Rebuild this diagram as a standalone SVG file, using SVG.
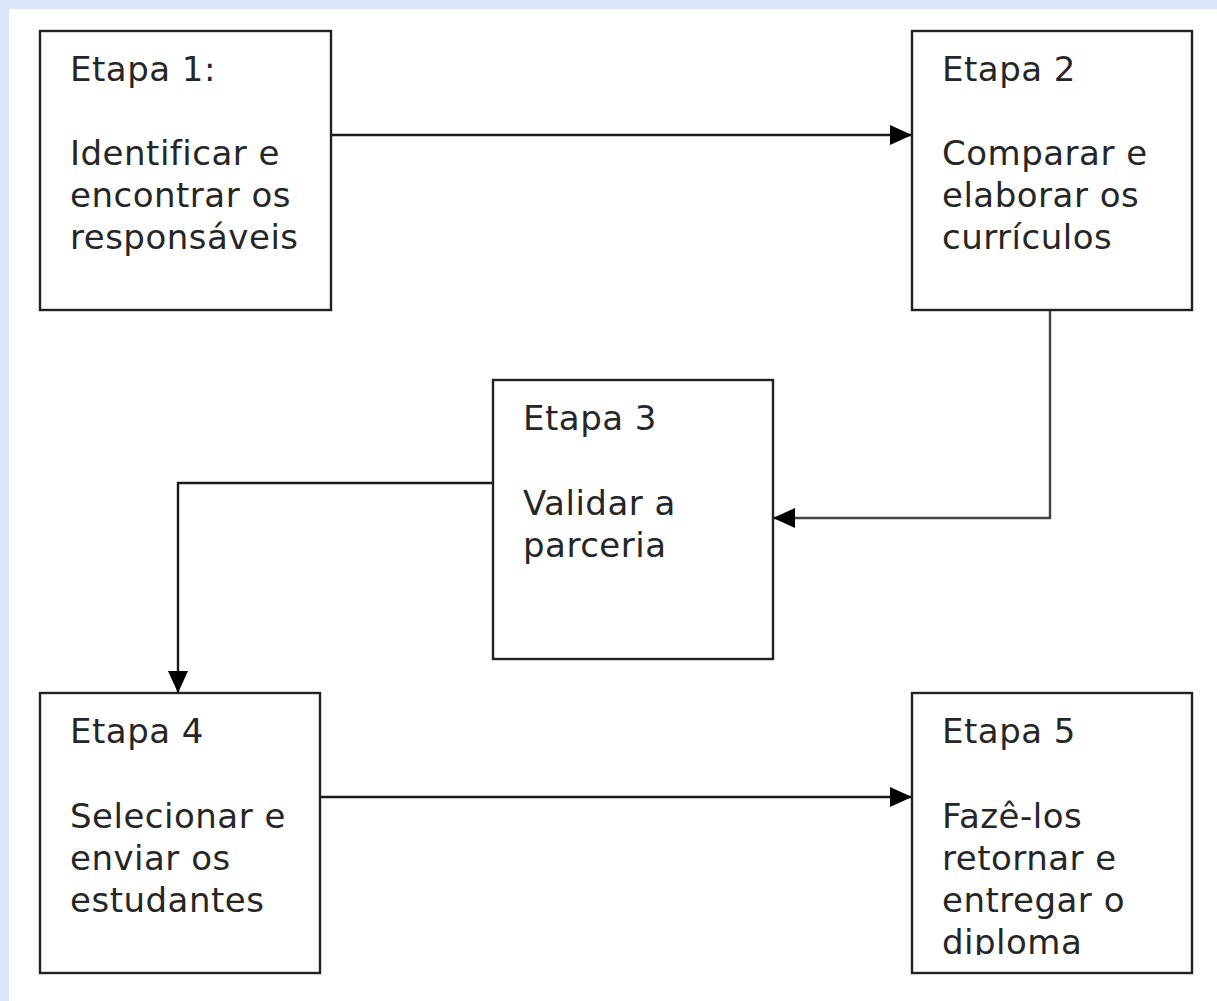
<svg xmlns="http://www.w3.org/2000/svg" width="1217" height="1001" viewBox="0 0 1217 1001">
<style>
.box{fill:#fff;stroke:#222;stroke-width:2.4}
.t{font-family:"DejaVu Sans",Verdana,sans-serif;font-size:34px;fill:#262626;letter-spacing:0.5px}
.c{fill:none;stroke:#1a1a1a;stroke-width:2.4}
.g{fill:none;stroke:#444;stroke-width:2.4}
</style>
<defs>
<marker id="ah" viewBox="0 0 22 20" refX="22" refY="10" markerWidth="22" markerHeight="20" markerUnits="userSpaceOnUse" orient="auto">
<path d="M0,0 L22,10 L0,20 Z" fill="#000"/>
</marker>
<clipPath id="clip5"><rect x="912" y="693" width="280" height="262"/></clipPath>
</defs>
<rect x="0" y="0" width="1217" height="1001" fill="#dde5fb"/>
<rect x="9" y="9" width="1208" height="992" fill="#fff"/>
<g id="connectors">
<line class="c" x1="331" y1="135" x2="912" y2="135" marker-end="url(#ah)"/>
<polyline class="g" points="1050,310 1050,518 773,518" marker-end="url(#ah)"/>
<polyline class="c" points="493,483 178,483 178,693" marker-end="url(#ah)"/>
<line class="c" x1="320" y1="797" x2="912" y2="797" marker-end="url(#ah)"/>
</g>
<g id="node1">
<rect class="box" x="40" y="31" width="291" height="279"/>
<text class="t" x="70" y="81">Etapa 1:</text>
<text class="t" x="70" y="165">Identificar e</text>
<text class="t" x="70" y="207">encontrar os</text>
<text class="t" x="70" y="249">responsáveis</text>
</g>
<g id="node2">
<rect class="box" x="912" y="31" width="280" height="279"/>
<text class="t" x="942" y="81">Etapa 2</text>
<text class="t" x="942" y="165">Comparar e</text>
<text class="t" x="942" y="207">elaborar os</text>
<text class="t" x="942" y="249">currículos</text>
</g>
<g id="node3">
<rect class="box" x="493" y="380" width="280" height="279"/>
<text class="t" x="523" y="430">Etapa 3</text>
<text class="t" x="523" y="515">Validar a</text>
<text class="t" x="523" y="557">parceria</text>
</g>
<g id="node4">
<rect class="box" x="40" y="693" width="280" height="280"/>
<text class="t" x="70" y="743">Etapa 4</text>
<text class="t" x="70" y="828">Selecionar e</text>
<text class="t" x="70" y="870">enviar os</text>
<text class="t" x="70" y="912">estudantes</text>
</g>
<g id="node5">
<rect class="box" x="912" y="693" width="280" height="280"/>
<g clip-path="url(#clip5)">
<text class="t" x="942" y="743">Etapa 5</text>
<text class="t" x="942" y="828">Fazê-los</text>
<text class="t" x="942" y="870">retornar e</text>
<text class="t" x="942" y="912">entregar o</text>
<text class="t" x="942" y="954">diploma</text>
</g>
</g>
</svg>
